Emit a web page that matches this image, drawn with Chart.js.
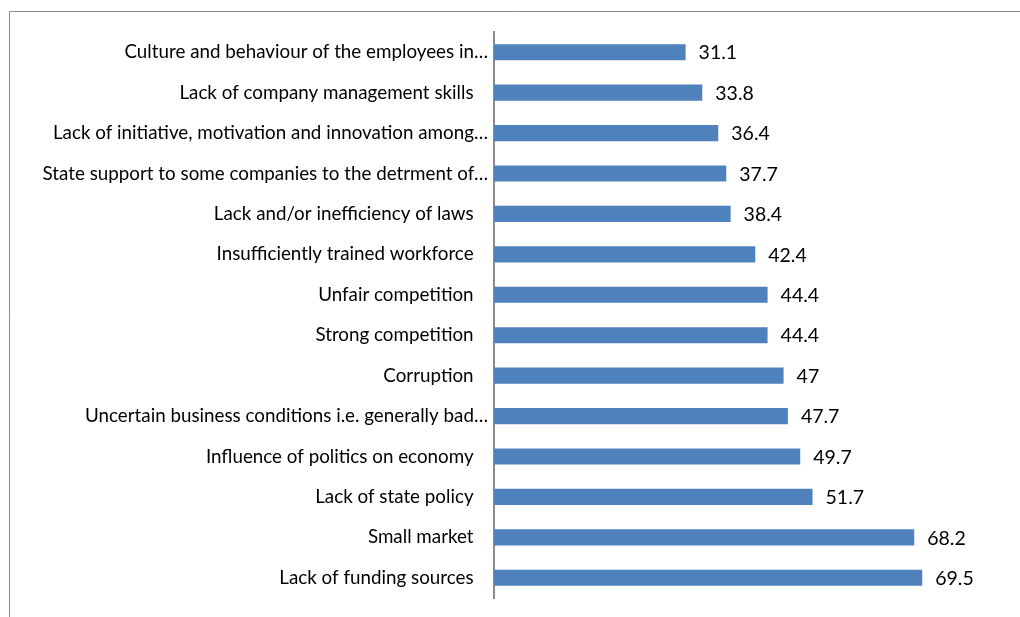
<!DOCTYPE html>
<html>
<head>
<meta charset="utf-8">
<title>Obstacles to business</title>
<script src="https://cdn.jsdelivr.net/npm/chart.js@4.4.0/dist/chart.umd.min.js"></script>
<style>
  html, body { margin: 0; padding: 0; background: #fff; }
  canvas { display: block; }
</style>
</head>
<body>
<canvas id="obstaclesChart" width="1020" height="617"></canvas>
<script>
// Obstacles, top to bottom as they appear on the chart
const categories = [
    'Culture and behaviour of the employees in…',
    'Lack of company management skills',
    'Lack of initiative, motivation and innovation among…',
    'State support to some companies to the detrment of…',
    'Lack and/or inefficiency of laws',
    'Insufficiently trained workforce',
    'Unfair competition',
    'Strong competition',
    'Corruption',
    'Uncertain business conditions i.e. generally bad…',
    'Influence of politics on economy',
    'Lack of state policy',
    'Small market',
    'Lack of funding sources'
];
const shares = [31.1, 33.8, 36.4, 37.7, 38.4, 42.4, 44.4, 44.4, 47, 47.7, 49.7, 51.7, 68.2, 69.5];
const valueLabels = ['31.1', '33.8', '36.4', '37.7', '38.4', '42.4', '44.4', '44.4', '47', '47.7', '49.7', '51.7', '68.2', '69.5'];

const FONT = 'Lato, "Open Sans", sans-serif';

// thin grey frame around the whole chart
const framePlugin = {
    id: 'frame',
    beforeDraw(chart) {
        const ctx = chart.ctx;
        ctx.save();
        ctx.strokeStyle = '#8a8a8a';
        ctx.lineWidth = 1;
        ctx.beginPath();
        ctx.moveTo(9.5, chart.height);
        ctx.lineTo(9.5, 11.5);
        ctx.lineTo(chart.width, 11.5);
        ctx.stroke();
        ctx.restore();
    }
};

// value printed to the right of every bar
const valuePlugin = {
    id: 'values',
    afterDatasetsDraw(chart) {
        const ctx = chart.ctx;
        const bars = chart.getDatasetMeta(0).data;
        ctx.save();
        ctx.font = '19.5px ' + FONT;
        ctx.fillStyle = '#000';
        ctx.textAlign = 'left';
        ctx.textBaseline = 'middle';
        bars.forEach((bar, i) => {
            ctx.fillText(valueLabels[i], bar.x + 13, bar.y + 1);
        });
        ctx.restore();
    }
};

new Chart(document.getElementById('obstaclesChart'), {
    type: 'bar',
    data: {
        labels: categories,
        datasets: [{
            data: shares,
            backgroundColor: '#4f81bd',
            borderWidth: 0,
            categoryPercentage: 1,
            barPercentage: 0.4
        }]
    },
    options: {
        indexAxis: 'y',
        responsive: false,
        animation: false,
        devicePixelRatio: 1,
        layout: { padding: { left: 0, top: 32, right: 30, bottom: 19 } },
        plugins: {
            legend: { display: false },
            tooltip: { enabled: false }
        },
        scales: {
            x: {
                display: false,
                min: 0,
                max: 80.5
            },
            y: {
                grid: { display: false, drawTicks: false },
                border: { display: true, color: '#8c8c8c', width: 2 },
                ticks: {
                    color: '#000',
                    padding: 6,
                    autoSkip: false,
                    font: { family: FONT, size: 18.8 },
                    callback(value, index) {
                        const label = categories[index];
                        return label.endsWith('…') ? label : label + '   ';
                    }
                },
                afterFit(scale) {
                    scale.width = 494;
                }
            }
        }
    },
    plugins: [framePlugin, valuePlugin]
});
</script>
</body>
</html>
